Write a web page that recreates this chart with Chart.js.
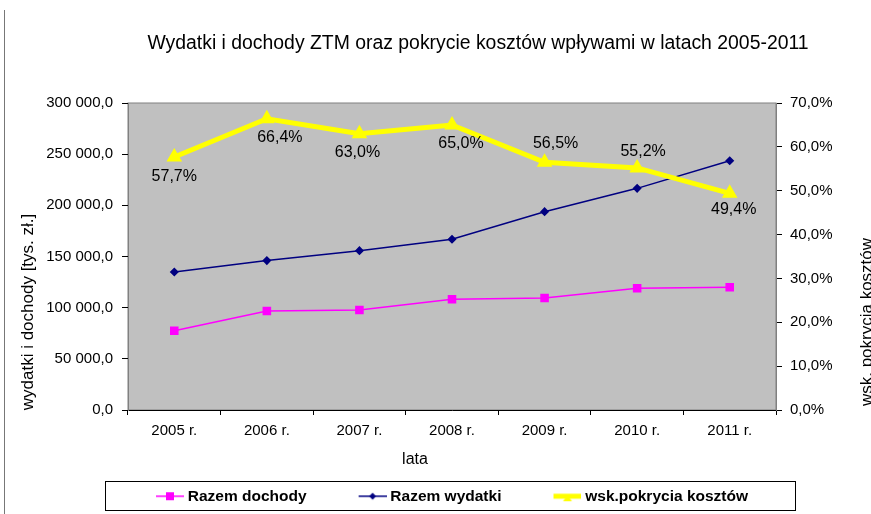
<!DOCTYPE html>
<html>
<head>
<meta charset="utf-8">
<script src="https://cdn.jsdelivr.net/npm/chart.js@4.4.1/dist/chart.umd.min.js"></script>
<style>
  body { margin: 0; background: #fff; }
  #wrap { width: 871px; height: 514px; }
</style>
</head>
<body>
<div id="wrap"><canvas id="ztmChart" width="871" height="514"></canvas></div>
<script>
const years = ['2005 r.', '2006 r.', '2007 r.', '2008 r.', '2009 r.', '2010 r.', '2011 r.'];
const incomes = [77500, 96700, 97700, 108200, 109500, 118900, 119900];
const expenses = [134900, 146000, 155700, 166800, 193800, 216600, 243600];
const coverage = [57.7, 66.4, 63.0, 65.0, 56.5, 55.2, 49.4];
const coverageLabels = ['57,7%', '66,4%', '63,0%', '65,0%', '56,5%', '55,2%', '49,4%'];

const FONT = "'Liberation Sans', Arial, sans-serif";
// where each percentage label sits relative to its point
const labelOffsets = [[0, 20], [13, 19], [-2, 19], [9, 19], [11, -19], [6, -16], [4, 16]];

const LEGEND_BOX = 57;

function fmtNum(v) {
    const parts = v.toFixed(1).split('.');
    return parts[0].replace(/\B(?=(\d{3})+(?!\d))/g, ' ') + ',' + parts[1];
}

// little line + marker picture for the legend
function makeMarker(color, lineWidth, style) {
    const c = document.createElement('canvas');
    c.width = LEGEND_BOX + 8;
    c.height = 16;
    const ctx = c.getContext('2d');
    const end = c.width;
    ctx.strokeStyle = color;
    ctx.fillStyle = color;
    ctx.lineWidth = lineWidth;
    ctx.beginPath();
    ctx.moveTo(end - 28, 8);
    ctx.lineTo(end, 8);
    ctx.stroke();
    const cx = end - 14, cy = 8;
    ctx.beginPath();
    if (style === 'rect') {
        ctx.rect(cx - 4, cy - 4, 8, 8);
    } else if (style === 'rectRot') {
        ctx.moveTo(cx, cy - 3.5);
        ctx.lineTo(cx + 3.5, cy);
        ctx.lineTo(cx, cy + 3.5);
        ctx.lineTo(cx - 3.5, cy);
    } else {
        ctx.moveTo(cx, cy - 1);
        ctx.lineTo(cx + 4.5, cy + 5);
        ctx.lineTo(cx - 4.5, cy + 5);
    }
    ctx.closePath();
    ctx.fill();
    return c;
}

const decor = {
    id: 'decor',
    beforeDraw(chart) {
        const {ctx, chartArea: a} = chart;
        ctx.save();
        ctx.fillStyle = '#C0C0C0';
        ctx.fillRect(a.left, a.top, a.right - a.left, a.bottom - a.top);
        ctx.strokeStyle = '#808080';
        ctx.lineWidth = 1;
        ctx.strokeRect(a.left, a.top, a.right - a.left, a.bottom - a.top);
        // page edge line on the left
        ctx.strokeStyle = '#777';
        ctx.beginPath();
        ctx.moveTo(4.5, 10);
        ctx.lineTo(4.5, 514);
        ctx.stroke();
        ctx.restore();
    },
    afterDatasetsDraw(chart) {
        const {ctx} = chart;
        const meta = chart.getDatasetMeta(2);
        ctx.save();
        ctx.font = '16px ' + FONT;
        ctx.fillStyle = '#000';
        ctx.textAlign = 'center';
        ctx.textBaseline = 'middle';
        meta.data.forEach((pt, i) => {
            const off = labelOffsets[i];
            ctx.fillText(coverageLabels[i], pt.x + off[0], pt.y + off[1]);
        });
        ctx.restore();
    },
    afterDraw(chart) {
        const {ctx} = chart;
        ctx.save();
        ctx.fillStyle = '#000';
        ctx.textAlign = 'center';
        ctx.textBaseline = 'middle';
        ctx.font = '19.4px ' + FONT;
        ctx.fillText('Wydatki i dochody ZTM oraz pokrycie kosztów wpływami w latach 2005-2011', 478, 44);
        ctx.font = '16px ' + FONT;
        ctx.fillText('lata', 415, 460);

        ctx.font = '17px ' + FONT;
        ctx.save();
        ctx.translate(28, 312);
        ctx.rotate(-Math.PI / 2);
        ctx.fillText('wydatki i dochody [tys. zł.]', 0, 0);
        ctx.restore();
        ctx.save();
        ctx.translate(872, 322);
        ctx.rotate(-Math.PI / 2);
        ctx.textBaseline = 'alphabetic';
        ctx.fillText('wsk. pokrycia kosztów', 0, 0);
        ctx.restore();

        // frame round the legend
        const boxes = chart.legend.legendHitBoxes;
        if (boxes && boxes.length) {
            const first = boxes[0];
            const last = boxes[boxes.length - 1];
            ctx.strokeStyle = '#000';
            ctx.lineWidth = 1;
            const left = Math.round(first.left - 18) + 0.5;
            const right = Math.round(last.left + last.width + 47) + 0.5;
            const top = Math.round(first.top - 7.5) + 0.5;
            const bottom = Math.round(first.top + 21.5) + 0.5;
            ctx.strokeRect(left, top, right - left, bottom - top);
        }
        ctx.restore();
    }
};

const markers = [
    makeMarker('#FF00FF', 1.5, 'rect'),
    makeMarker('#000080', 1.5, 'rectRot'),
    makeMarker('#FFFF00', 5, 'triangle')
];

new Chart(document.getElementById('ztmChart'), {
    type: 'line',
    data: {
        labels: years,
        datasets: [{
            label: 'Razem dochody',
            data: incomes,
            yAxisID: 'y',
            borderColor: '#FF00FF',
            backgroundColor: '#FF00FF',
            borderWidth: 1.5,
            pointStyle: 'rect',
            pointRadius: 5,
            tension: 0,
            order: 1
        }, {
            label: 'Razem wydatki',
            data: expenses,
            yAxisID: 'y',
            borderColor: '#000080',
            backgroundColor: '#000080',
            borderWidth: 1.5,
            pointStyle: 'rectRot',
            pointRadius: 3.5,
            tension: 0,
            order: 2
        }, {
            label: 'wsk.pokrycia kosztów',
            data: coverage,
            yAxisID: 'y1',
            borderColor: '#FFFF00',
            backgroundColor: '#FFFF00',
            borderWidth: 5,
            pointStyle: 'triangle',
            pointRadius: 4,
            tension: 0,
            order: 0
        }]
    },
    options: {
        responsive: false,
        animation: false,
        events: [],
        layout: { padding: { top: 103, bottom: 0, left: 0, right: 0 } },
        plugins: {
            title: { display: false },
            tooltip: { enabled: false },
            legend: {
                position: 'bottom',
                labels: {
                    usePointStyle: true,
                    pointStyleWidth: LEGEND_BOX,
                    padding: 19,
                    color: '#000',
                    font: { family: FONT, size: 15.5, weight: 'bold' },
                    generateLabels: (chart) => chart.data.datasets.map((ds, i) => ({
                        text: ds.label,
                        pointStyle: markers[i],
                        fillStyle: ds.borderColor,
                        strokeStyle: ds.borderColor,
                        lineWidth: 0,
                        hidden: false,
                        fontColor: '#000',
                        datasetIndex: i
                    }))
                }
            }
        },
        scales: {
            x: {
                offset: true,
                grid: { display: true, drawOnChartArea: false, offset: true, tickLength: 5, color: '#000' },
                border: { color: '#000' },
                ticks: { color: '#000', padding: 7, font: { family: FONT, size: 15 } },
                afterFit: (s) => { s.height = 59.5; }
            },
            y: {
                position: 'left',
                min: 0,
                max: 300000,
                grid: { drawOnChartArea: false, tickLength: 6, color: '#000' },
                border: { color: '#808080' },
                ticks: {
                    stepSize: 50000,
                    color: '#000',
                    padding: 9,
                    font: { family: FONT, size: 15 },
                    callback: (v) => fmtNum(v)
                },
                afterFit: (s) => { s.width = 128; }
            },
            y1: {
                position: 'right',
                min: 0,
                max: 70,
                grid: { drawOnChartArea: false, tickLength: 6, color: '#000' },
                border: { color: '#808080' },
                ticks: {
                    stepSize: 10,
                    color: '#000',
                    padding: 8,
                    font: { family: FONT, size: 15 },
                    callback: (v) => v.toFixed(1).replace('.', ',') + '%'
                },
                afterFit: (s) => { s.width = 95; }
            }
        }
    },
    plugins: [decor]
});
</script>
</body>
</html>
